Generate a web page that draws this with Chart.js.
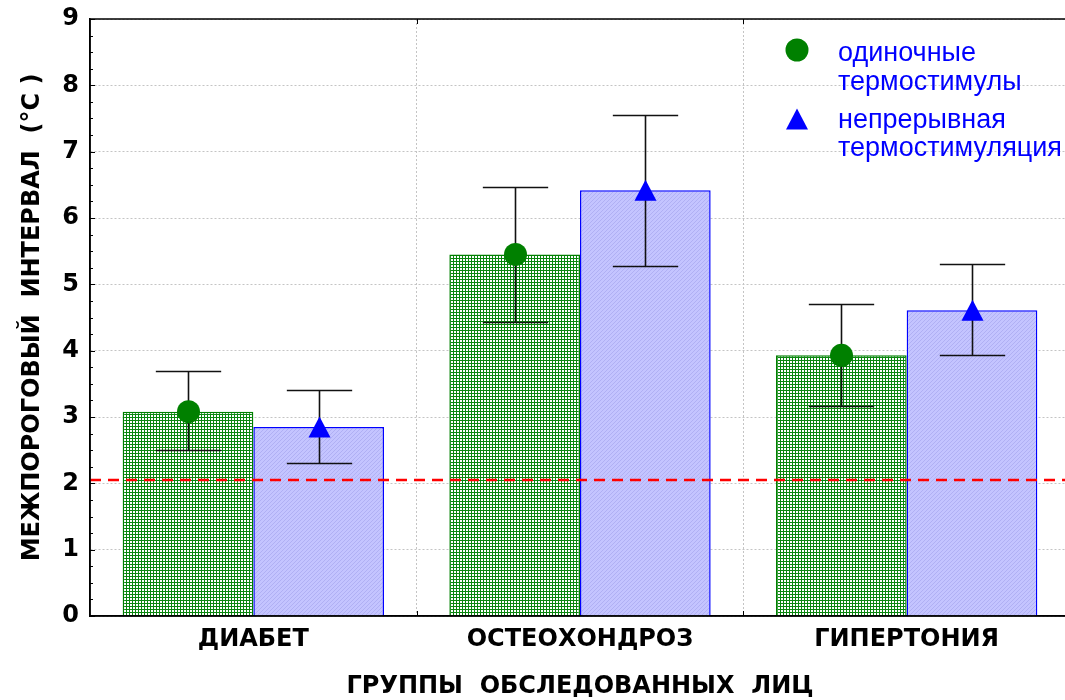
<!DOCTYPE html>
<html><head><meta charset="utf-8">
<script src="https://cdn.jsdelivr.net/npm/chart.js@4"></script>
<style>html,body{margin:0;padding:0;overflow:hidden;background:#fff}
#wrap{width:1075px;height:700px;position:relative}</style></head>
<body><div id="wrap"><canvas id="c"></canvas></div>
<script>
// ---- data ----
const categories = ['ДИАБЕТ', 'ОСТЕОХОНДРОЗ', 'ГИПЕРТОНИЯ'];
const seriesSingleName = ['одиночные', 'термостимулы'];
const seriesContName = ['непрерывная', 'термостимуляция'];
const singleMean = [3.08, 5.45, 3.93];
const singleLow  = [2.50, 4.43, 3.16];
const singleHigh = [3.69, 6.46, 4.70];
const contMean = [2.85, 6.42, 4.61];
const contLow  = [2.30, 5.27, 3.93];
const contHigh = [3.40, 7.55, 5.30];
const thresholdValue = [2.05];
const yMin = 0, yMax = 9, yStep = 1, yMinorStep = 0.25;
const xTitle = 'ГРУППЫ  ОБСЛЕДОВАННЫХ  ЛИЦ';
const yTitle = 'МЕЖПОРОГОВЫЙ  ИНТЕРВАЛ  (°C )';

// ---- patterns ----
function makePattern(size, bg, fg, test) {
  const c = document.createElement('canvas');
  c.width = size; c.height = size;
  const g = c.getContext('2d');
  g.fillStyle = bg; g.fillRect(0, 0, size, size);
  g.fillStyle = fg;
  for (let y = 0; y < size; y++) for (let x = 0; x < size; x++) if (test(x, y)) g.fillRect(x, y, 1, 1);
  return g.createPattern(c, 'repeat');
}
const greenPattern = makePattern(3, '#ffffff', '#0a870f', (x, y) => x === 0 || y === 0);
const bluePattern = makePattern(4, '#c4c4ff', '#b0b0f4', (x, y) => (x + y) % 4 === 0);

const RED = '#ff0000';
const SANS = '"Liberation Sans", Arial, sans-serif';
const WIDE = '"DejaVu Sans", "Liberation Sans", sans-serif';

const overlay = {
  id: 'overlay',
  afterDatasetsDraw(chart) {
    const {ctx, chartArea: a, scales: {x, y}} = chart;
    ctx.save();
    // threshold line
    ctx.strokeStyle = RED; ctx.lineWidth = 2.5; ctx.setLineDash([11, 7]);
    const ty = y.getPixelForValue(thresholdValue[0]);
    ctx.beginPath(); ctx.moveTo(a.left, ty); ctx.lineTo(a.right, ty); ctx.stroke();
    ctx.setLineDash([]);
    // error bars + markers
    const groups = [
      {mean: singleMean, low: singleLow, high: singleHigh, meta: chart.getDatasetMeta(0), shape: 'circle', color: '#008000'},
      {mean: contMean, low: contLow, high: contHigh, meta: chart.getDatasetMeta(1), shape: 'triangle', color: '#0000ff'}
    ];
    groups.forEach(gp => {
      gp.meta.data.forEach((bar, i) => {
        const cx = Math.round(bar.x) + 0.5, hw = bar.width * 0.25;
        const yh = Math.round(y.getPixelForValue(gp.high[i])) + 0.5, yl = Math.round(y.getPixelForValue(gp.low[i])) + 0.5;
        ctx.strokeStyle = '#111'; ctx.lineWidth = 1.6;
        ctx.beginPath();
        ctx.moveTo(cx, yh); ctx.lineTo(cx, yl);
        ctx.moveTo(cx - hw, yh); ctx.lineTo(cx + hw, yh);
        ctx.moveTo(cx - hw, yl); ctx.lineTo(cx + hw, yl);
        ctx.stroke();
        drawMarker(ctx, gp.shape, cx, y.getPixelForValue(gp.mean[i]), gp.color);
      });
    });
    // axes lines
    ctx.strokeStyle = '#000'; ctx.lineWidth = 1.6;
    ctx.beginPath();
    ctx.moveTo(a.left, a.top); ctx.lineTo(a.left, a.bottom); ctx.lineTo(a.right, a.bottom);
    ctx.moveTo(a.left, a.top); ctx.lineTo(a.right, a.top);
    ctx.stroke();
    // y ticks inside
    ctx.lineWidth = 1;
    ctx.beginPath();
    for (let k = 0; k <= Math.round((yMax - yMin) / yMinorStep); k++) {
      const v = yMin + k * yMinorStep;
      const py = Math.round(y.getPixelForValue(v)) + 0.5;
      const major = Math.abs(v - Math.round(v)) < 1e-6;
      ctx.moveTo(a.left, py); ctx.lineTo(a.left + (major ? 5 : 3), py);
    }
    // x ticks at category boundaries
    for (let i = 0; i < categories.length - 1; i++) {
      const px = Math.round((x.getPixelForValue(i) + x.getPixelForValue(i + 1)) / 2) + 0.5;
      ctx.moveTo(px, a.bottom); ctx.lineTo(px, a.bottom - 5);
      ctx.moveTo(px, a.top); ctx.lineTo(px, a.top + 5);
    }
    ctx.stroke();
    // legend
    const lx = a.right - 273, tx = a.right - 232;
    ctx.font = '27px ' + SANS;
    ctx.textBaseline = 'middle'; ctx.textAlign = 'left';
    drawMarker(ctx, 'circle', lx, a.top + 31, '#008000');
    ctx.fillStyle = '#0000ff';
    ctx.fillText(seriesSingleName[0], tx, a.top + 35);
    ctx.fillText(seriesSingleName[1], tx, a.top + 64);
    drawMarker(ctx, 'triangle', lx, a.top + 100, '#0000ff');
    ctx.fillStyle = '#0000ff';
    ctx.fillText(seriesContName[0], tx, a.top + 102);
    ctx.fillText(seriesContName[1], tx, a.top + 130);
    ctx.restore();
  }
};
function drawMarker(ctx, shape, cx, cy, color) {
  ctx.fillStyle = color;
  ctx.beginPath();
  if (shape === 'circle') {
    ctx.arc(cx, cy, 11.5, 0, Math.PI * 2);
  } else {
    ctx.moveTo(cx, cy - 10.5); ctx.lineTo(cx + 11, cy + 10.5); ctx.lineTo(cx - 11, cy + 10.5); ctx.closePath();
  }
  ctx.fill();
}

const boldFont = (s) => ({family: WIDE, size: s, weight: 'bold', lineHeight: 1.1});

new Chart(document.getElementById('c'), {
  type: 'bar',
  data: {
    labels: categories,
    datasets: [
      {label: seriesSingleName.join(' '), data: singleMean, backgroundColor: greenPattern, borderColor: '#008000', borderWidth: 1.5, borderSkipped: 'start', categoryPercentage: 0.8, barPercentage: 1.0},
      {label: seriesContName.join(' '), data: contMean, backgroundColor: bluePattern, borderColor: '#0000ff', borderWidth: 1.5, borderSkipped: 'start', categoryPercentage: 0.8, barPercentage: 1.0}
    ]
  },
  options: {
    responsive: true, maintainAspectRatio: false, animation: false,
    layout: {padding: {top: 19, right: 5, left: 0, bottom: 0}},
    plugins: {legend: {display: false}, tooltip: {enabled: false}},
    scales: {
      x: {
        grid: {offset: true, color: '#c4c4c4', lineWidth: 1, drawTicks: false},
        border: {display: true, color: '#000', width: 1.5, dash: [2, 2]},
        ticks: {font: boldFont(24), color: '#000', padding: 11},
        title: {display: true, text: xTitle, font: boldFont(24), color: '#000', padding: {top: 4, bottom: 0}},
        afterFit: s => { s.height = 84; s.paddingLeft = 0; s.paddingRight = 0; }
      },
      y: {
        min: yMin, max: yMax,
        grid: {color: '#c4c4c4', lineWidth: 1, drawTicks: false},
        border: {display: true, color: '#000', width: 1.5, dash: [2, 2]},
        ticks: {stepSize: yStep, font: boldFont(24), color: '#000', padding: 11},
        title: {display: true, text: yTitle, font: boldFont(24), color: '#000', padding: {top: 20, bottom: 0}},
        afterFit: s => { s.width = 90; s.paddingTop = 0; s.paddingBottom = 0; }
      }
    }
  },
  plugins: [overlay]
});
</script></body></html>
